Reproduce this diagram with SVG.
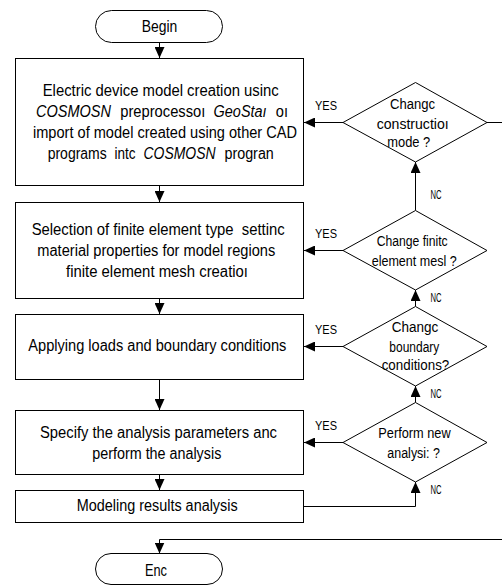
<svg xmlns="http://www.w3.org/2000/svg" width="502" height="585" viewBox="0 0 502 585">
<style>
.s{fill:#fff;stroke:#000;stroke-width:1}
.c{fill:none;stroke:#000;stroke-width:1}
text{font-family:"Liberation Sans",Arial,sans-serif;fill:#000;white-space:pre}
.b{font-size:16px}
.d{font-size:14px}
.l{font-size:12px}
.i{font-style:italic}
</style>
<defs>
<marker id="ah" markerUnits="userSpaceOnUse" markerWidth="11" markerHeight="10" refX="11" refY="5" orient="auto">
<path d="M0,0 L11,5 L0,10 z" fill="#000"/>
</marker>
</defs>
<g id="connectors">
<path class="c" d="M159.5 43 V58" marker-end="url(#ah)"/>
<path class="c" d="M159.5 185.5 V202" marker-end="url(#ah)"/>
<path class="c" d="M159.5 298.5 V314" marker-end="url(#ah)"/>
<path class="c" d="M159.5 379.5 V410" marker-end="url(#ah)"/>
<path class="c" d="M159.5 474.5 V490" marker-end="url(#ah)"/>
<path class="c" d="M343 122.5 H304" marker-end="url(#ah)"/>
<path class="c" d="M343 250.5 H304" marker-end="url(#ah)"/>
<path class="c" d="M343 346.5 H304" marker-end="url(#ah)"/>
<path class="c" d="M343 442.5 H304" marker-end="url(#ah)"/>
<path class="c" d="M415.5 210.5 V162" marker-end="url(#ah)"/>
<path class="c" d="M415.5 306.5 V290" marker-end="url(#ah)"/>
<path class="c" d="M415.5 402.5 V386" marker-end="url(#ah)"/>
<path class="c" d="M303.5 506.5 H415.5 V482" marker-end="url(#ah)"/>
<path class="c" d="M487 122.5 H510 V539.5 H159.5 V553.5" marker-end="url(#ah)"/>
<text class="l" x="315" y="110" textLength="22" lengthAdjust="spacingAndGlyphs">YES</text>
<text class="l" x="315" y="238" textLength="22" lengthAdjust="spacingAndGlyphs">YES</text>
<text class="l" x="315" y="334" textLength="22" lengthAdjust="spacingAndGlyphs">YES</text>
<text class="l" x="315" y="430" textLength="22" lengthAdjust="spacingAndGlyphs">YES</text>
<text class="l" x="430.5" y="199" textLength="11" lengthAdjust="spacingAndGlyphs">NC</text>
<text class="l" x="430.5" y="302" textLength="11" lengthAdjust="spacingAndGlyphs">NC</text>
<text class="l" x="430.5" y="398" textLength="11" lengthAdjust="spacingAndGlyphs">NC</text>
<text class="l" x="430.5" y="494" textLength="11" lengthAdjust="spacingAndGlyphs">NC</text>
</g>
<g id="begin">
<rect class="s" x="95.5" y="10.5" width="127" height="32" rx="16"/>
<text class="b" x="141.7" y="31.5" textLength="35.6" lengthAdjust="spacingAndGlyphs">Begin</text>
</g>
<g id="box1">
<rect class="s" x="15.5" y="58.5" width="288" height="127"/>
<text class="b" x="42.7" y="96" textLength="236" lengthAdjust="spacingAndGlyphs">Electric device model creation usinc</text>
<text class="b i" x="36" y="117" textLength="75" lengthAdjust="spacingAndGlyphs">COSMOSN</text>
<text class="b" x="120.3" y="117" textLength="85" lengthAdjust="spacingAndGlyphs">preprocessoı</text>
<text class="b i" x="213.6" y="117" textLength="53" lengthAdjust="spacingAndGlyphs">GeoStaı</text>
<text class="b" x="275.8" y="117" textLength="12.2" lengthAdjust="spacingAndGlyphs">oı</text>
<text class="b" x="33" y="138" textLength="264" lengthAdjust="spacingAndGlyphs">import of model created using other CAD</text>
<text class="b" x="47.7" y="159" textLength="59" lengthAdjust="spacingAndGlyphs">programs</text>
<text class="b" x="114.5" y="159" textLength="21" lengthAdjust="spacingAndGlyphs">intc</text>
<text class="b i" x="143.5" y="159" textLength="72" lengthAdjust="spacingAndGlyphs">COSMOSN</text>
<text class="b" x="224.5" y="159" textLength="49.3" lengthAdjust="spacingAndGlyphs">progran</text>
</g>
<g id="box2">
<rect class="s" x="15.5" y="202.5" width="288" height="96"/>
<text class="b" x="31.7" y="235" textLength="253" lengthAdjust="spacingAndGlyphs">Selection of finite element type  settinc</text>
<text class="b" x="37.3" y="256" textLength="238" lengthAdjust="spacingAndGlyphs">material properties for model regions</text>
<text class="b" x="66" y="277" textLength="182" lengthAdjust="spacingAndGlyphs">finite element mesh creatioı</text>
</g>
<g id="box3">
<rect class="s" x="15.5" y="314.5" width="288" height="65"/>
<text class="b" x="28.3" y="351" textLength="258" lengthAdjust="spacingAndGlyphs">Applying loads and boundary conditions</text>
</g>
<g id="box4">
<rect class="s" x="15.5" y="410.5" width="288" height="64"/>
<text class="b" x="40" y="438" textLength="237" lengthAdjust="spacingAndGlyphs">Specify the analysis parameters anc</text>
<text class="b" x="92.3" y="459" textLength="129" lengthAdjust="spacingAndGlyphs">perform the analysis</text>
</g>
<g id="box5">
<rect class="s" x="15.5" y="490.5" width="288" height="32"/>
<text class="b" x="76.7" y="511" textLength="161" lengthAdjust="spacingAndGlyphs">Modeling results analysis</text>
</g>
<g id="end">
<rect class="s" x="95.5" y="553.5" width="127" height="31" rx="15.5"/>
<text class="b" x="145" y="576" textLength="22" lengthAdjust="spacingAndGlyphs">Enc</text>
</g>
<g id="decision1">
<polygon class="s" points="415.5,82.5 487,122.5 415.5,162 343,122.5"/>
<text class="d" x="390" y="108.5" textLength="45" lengthAdjust="spacingAndGlyphs">Changc</text>
<text class="d" x="376.7" y="128.5" textLength="72" lengthAdjust="spacingAndGlyphs">constructioı</text>
<text class="d" x="387.3" y="147" textLength="43" lengthAdjust="spacingAndGlyphs">mode ?</text>
</g>
<g id="decision2">
<polygon class="s" points="415.5,210.5 487,250.5 415.5,290 343,250.5"/>
<text class="d" x="376.7" y="246" textLength="71" lengthAdjust="spacingAndGlyphs">Change finitc</text>
<text class="d" x="371.7" y="266" textLength="85" lengthAdjust="spacingAndGlyphs">element mesl ?</text>
</g>
<g id="decision3">
<polygon class="s" points="415.5,306.5 487,346.5 415.5,386 343,346.5"/>
<text class="d" x="391.7" y="331.5" textLength="46.6" lengthAdjust="spacingAndGlyphs">Changc</text>
<text class="d" x="389.3" y="352" textLength="50" lengthAdjust="spacingAndGlyphs">boundary</text>
<text class="d" x="381.7" y="370" textLength="67.6" lengthAdjust="spacingAndGlyphs">conditions?</text>
</g>
<g id="decision4">
<polygon class="s" points="415.5,402.5 487,442.5 415.5,482 343,442.5"/>
<text class="d" x="378.3" y="438" textLength="72.4" lengthAdjust="spacingAndGlyphs">Perform new</text>
<text class="d" x="387.3" y="458" textLength="52.7" lengthAdjust="spacingAndGlyphs">analysi: ?</text>
</g>
</svg>
